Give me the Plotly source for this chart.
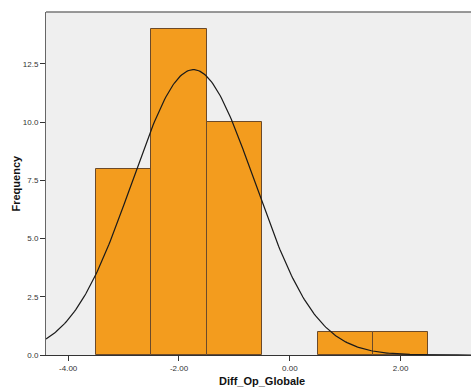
import numpy as np
import plotly.graph_objects as go

bin_centers = [-3.0, -2.0, -1.0, 1.0, 2.0]
counts = [8, 14, 10, 1, 1]
bin_width = 1.0
fit_mean = -1.74
fit_sd = 1.107
n_total = sum(counts)
x_ticks = [-4, -2, 0, 2]
x_tick_labels = ["-4.00", "-2.00", "0.00", "2.00"]
y_ticks = [0, 2.5, 5, 7.5, 10, 12.5]
y_tick_labels = ["0.0", "2.5", "5.0", "7.5", "10.0", "12.5"]

xs = np.linspace(-4.4, 3.3, 300)
ys = n_total * bin_width / (fit_sd * np.sqrt(2 * np.pi)) * np.exp(-0.5 * ((xs - fit_mean) / fit_sd) ** 2)

fig = go.Figure()
fig.add_trace(go.Bar(x=bin_centers, y=counts, width=bin_width,
                     marker=dict(color="#F39C1E", line=dict(color="#6b4a2a", width=1)),
                     showlegend=False, hoverinfo="skip"))
fig.add_trace(go.Scatter(x=xs, y=ys, mode="lines", line=dict(color="#1a1a1a", width=1.2),
                         showlegend=False, hoverinfo="skip"))

fig.update_layout(
    width=471, height=387,
    margin=dict(l=46, r=0, t=12, b=32, autoexpand=False),
    paper_bgcolor="white", plot_bgcolor="#EFEFEF",
    font=dict(family="Liberation Sans, Arial, sans-serif", color="#222"),
    bargap=0,
    xaxis=dict(range=[-4.4, 3.27], tickvals=x_ticks, ticktext=x_tick_labels, automargin=False,
               ticks="outside", ticklen=5, tickcolor="#333", showgrid=False, zeroline=False,
               showline=True, linecolor="#333", linewidth=1, mirror=False,
               tickfont=dict(size=8, color="#333")),
    yaxis=dict(range=[0, 14.73], tickvals=y_ticks, ticktext=y_tick_labels, automargin=False,
               ticks="outside", ticklen=5, tickcolor="#333", showgrid=False, zeroline=False,
               showline=True, linecolor="#666", linewidth=1,
               tickfont=dict(size=8, color="#333")),
)
fig.add_annotation(text="<b>Diff_Op_Globale</b>", xref="paper", yref="paper", x=0.5, y=0,
                   yshift=-26, xshift=3, showarrow=False, yanchor="middle",
                   font=dict(size=11, color="#111"))
fig.add_annotation(text="<b>Frequency</b>", xref="paper", yref="paper", x=0, y=0.5,
                   xshift=-31, showarrow=False, textangle=-90, xanchor="center",
                   font=dict(size=11, color="#111"))
fig.add_shape(type="line", xref="paper", yref="paper", x0=0, x1=1, y0=1, y1=1,
              line=dict(color="#777", width=1.5))
fig.write_html("out.html", config={"displayModeBar": False},
               post_script="document.body.style.margin='0';document.body.style.overflow='hidden';")
